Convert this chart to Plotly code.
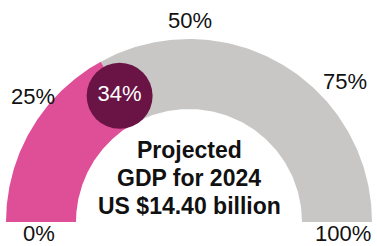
import numpy as np
import plotly.graph_objects as go

# ---- data ----
value = 34          # projected share (%)
total = 100
tick_values = [0, 25, 50, 75, 100]
tick_labels = ["0%", "25%", "50%", "75%", "100%"]
center_lines = ["Projected", "GDP for 2024", "US $14.40 billion"]

# ---- layout constants (pixels) ----
W, H = 377, 246
CX, CY = 189.0, 222.0
R_OUT, R_IN = 183.0, 113.0
R_MID = (R_OUT + R_IN) / 2
PINK = "#DF4F98"
GREY = "#C8C7C6"
DARK = "#6A1446"
FONT = "Liberation Sans"


def ang(v):
    # 0 -> left (180 deg), 100 -> right (0 deg)
    return np.pi * (1 - v / total)


def arc_poly(v0, v1, n=120):
    t = np.linspace(ang(v0), ang(v1), n)
    xo = CX + R_OUT * np.cos(t)
    yo = CY - R_OUT * np.sin(t)
    xi = CX + R_IN * np.cos(t[::-1])
    yi = CY - R_IN * np.sin(t[::-1])
    return np.r_[xo, xi, xo[0]], np.r_[yo, yi, yo[0]]


fig = go.Figure()

xg, yg = arc_poly(value, total)
fig.add_trace(go.Scatter(x=xg, y=yg, fill="toself", fillcolor=GREY, mode="lines",
                         line=dict(width=0, color=GREY), hoverinfo="skip"))
xp, yp = arc_poly(0, value)
fig.add_trace(go.Scatter(x=xp, y=yp, fill="toself", fillcolor=PINK, mode="lines",
                         line=dict(width=0, color=PINK), hoverinfo="skip"))

# marker circle at the value
a = ang(value)
fig.add_trace(go.Scatter(x=[CX + (R_MID - 4) * np.cos(a)], y=[CY - (R_MID - 4) * np.sin(a)],
                         mode="markers+text",
                         marker=dict(size=66, color=DARK, line=dict(width=0)),
                         text=[f"{value}%"], textposition="middle center",
                         textfont=dict(family=FONT, size=22, color="white"),
                         hoverinfo="skip"))

# tick labels
annos = []
for v, lab in zip(tick_values, tick_labels):
    t = ang(v)
    if v in (0, 100):
        x = CX + (R_MID + (6 if v == 100 else 0)) * np.cos(t) + (-2 if v == 0 else 0)
        y = CY + 11
        xa = "center"
    elif v == 50:
        x, y, xa = CX + 1, CY - R_OUT - 19, "center"
    else:
        r = 186
        x = CX + r * np.cos(t)
        y = CY - r * np.sin(t)
        xa = "right" if v < 50 else "left"
        y += 6 if v < 50 else -9
    annos.append(dict(x=x, y=y, text=lab, showarrow=False, xanchor=xa, yanchor="middle",
                      font=dict(family=FONT, size=22, color="#111111")))

for i, line in enumerate(center_lines):
    annos.append(dict(x=CX, y=150 + 28 * i, text=f"<b>{line}</b>", showarrow=False,
                      xanchor="center", yanchor="middle",
                      font=dict(family=FONT, size=23, color="#111111")))

fig.update_layout(
    width=W, height=H, margin=dict(l=0, r=0, t=0, b=0),
    paper_bgcolor="white", plot_bgcolor="white", showlegend=False,
    xaxis=dict(range=[0, W], visible=False, fixedrange=True),
    yaxis=dict(range=[H, 0], visible=False, fixedrange=True),
    annotations=annos,
)
fig.write_html("out.html", config={"displayModeBar": False})

# remove the default page margin so the figure sits at the window's corner
with open("out.html", "r", encoding="utf-8") as f:
    html = f.read()
html = html.replace("<head>", "<head><style>html,body{margin:0;padding:0;overflow:hidden;}</style>", 1)
with open("out.html", "w", encoding="utf-8") as f:
    f.write(html)
